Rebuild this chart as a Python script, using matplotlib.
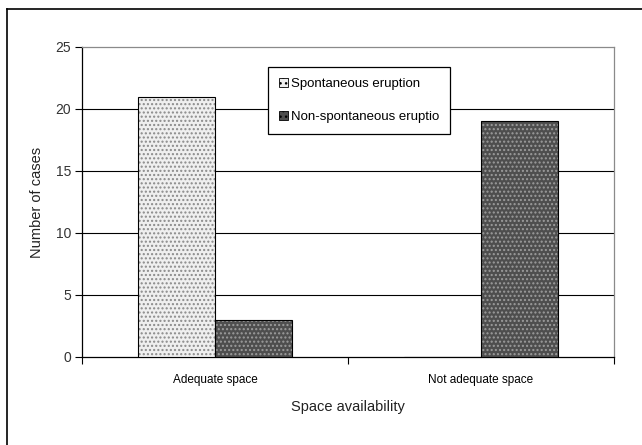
import matplotlib
matplotlib.use("Agg")
import matplotlib.pyplot as plt
from matplotlib.patches import Patch
from matplotlib.lines import Line2D
import numpy as np

plt.rcParams['font.family'] = ['Liberation Sans', 'DejaVu Sans']
plt.rcParams['hatch.linewidth'] = 1.0

categories = ["Adequate space", "Not adequate space"]
spontaneous = [21, 0]
non_spontaneous = [3, 19]
series_labels = ["Spontaneous eruption", "Non-spontaneous eruptio"]
y_ticks = [0, 5, 10, 15, 20, 25]

W, H = 642, 445
fig = plt.figure(figsize=(W/100, H/100), dpi=100)
ax = fig.add_axes([82/W, 1-357/H, (614-82)/W, (357-47)/H])

x = np.arange(len(categories))
bw = 0.29
light_face, light_hatch = '#efefef', '#8a8a8a'
dark_face, dark_hatch = '#4e4e4e', '#9c9c9c'
ax.bar(x - bw/2, spontaneous, bw, color=light_face, edgecolor=light_hatch,
       hatch='....', linewidth=0, zorder=3)
ax.bar(x - bw/2, spontaneous, bw, fill=False, edgecolor='black', linewidth=0.8, zorder=4)
ax.bar(x + bw/2, non_spontaneous, bw, color=dark_face, edgecolor=dark_hatch,
       hatch='....', linewidth=0, zorder=3)
ax.bar(x + bw/2, non_spontaneous, bw, fill=False, edgecolor='black', linewidth=0.8, zorder=4)

ax.set_xlim(-0.5, 1.5)
ax.set_ylim(0, 25)
ax.set_yticks(y_ticks)
ax.set_yticklabels([str(v) for v in y_ticks], fontsize=10, color='#333333')
ax.tick_params(axis='y', direction='out', length=5, width=0.8, pad=3)
ax.set_xticks(x)
ax.set_xticklabels(categories, fontsize=8.5)
ax.tick_params(axis='x', which='major', length=0, pad=12)
ax.set_xticks([-0.5, 0.5, 1.5], minor=True)
ax.tick_params(axis='x', which='minor', direction='out', length=5, width=0.8)

for v in y_ticks[1:-1]:
    ax.axhline(v, color='black', linewidth=0.8, zorder=1)

ax.spines['left'].set_color('black')
ax.spines['bottom'].set_color('black')
ax.spines['top'].set_color('#8a8a8a')
ax.spines['right'].set_color('#8a8a8a')
for s in ax.spines.values():
    s.set_linewidth(0.9)

ax.set_ylabel("Number of cases", fontsize=10.5, labelpad=8, color='#222222')
ax.set_xlabel("Space availability", fontsize=10.5, labelpad=10, color='#222222')

handles = [
    Patch(facecolor=light_face, edgecolor='black', hatch='...', linewidth=0.6),
    Patch(facecolor=dark_face, edgecolor='black', hatch='...', linewidth=0.6),
]
leg = ax.legend(handles, series_labels, loc='upper left',
                bbox_to_anchor=(268/W, 1-67/H), bbox_transform=fig.transFigure,
                fontsize=9.5, frameon=True, fancybox=False, edgecolor='black',
                framealpha=1, handlelength=0.7, handleheight=0.7, handletextpad=0.25,
                labelspacing=1.6, borderpad=0.8, borderaxespad=0)
leg.get_frame().set_linewidth(0.9)
leg.set_zorder(6)

# outer chart border (left and top visible)
fig.add_artist(Line2D([7/W, 7/W], [0, 1-9/H], transform=fig.transFigure, color='black', linewidth=1.2))
fig.add_artist(Line2D([7/W, 1], [1-9/H, 1-9/H], transform=fig.transFigure, color='black', linewidth=1.2))

fig.savefig("out.png", dpi=100)
